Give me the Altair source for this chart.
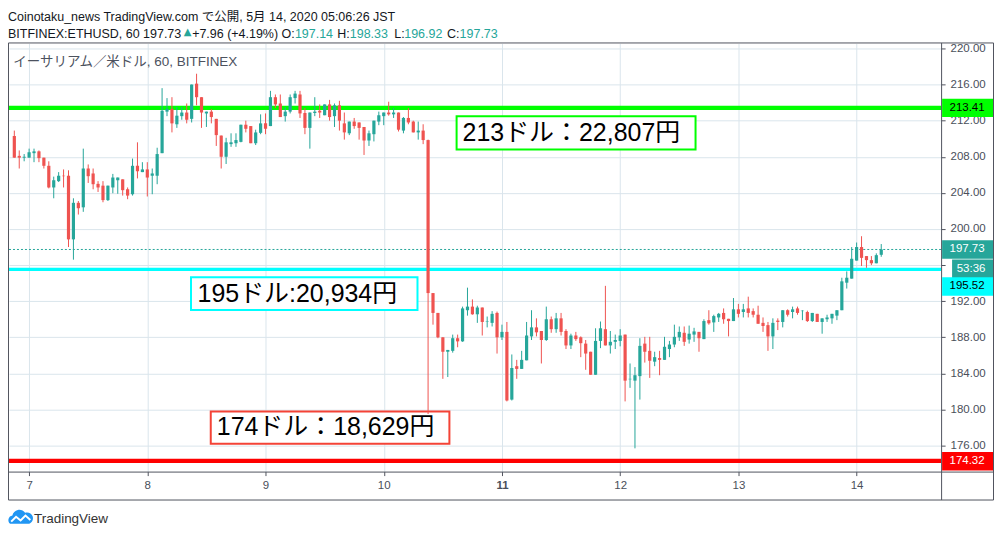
import altair as alt
import pandas as pd

# ---------------- data (hourly candles, BITFINEX ETHUSD, 6 May 21:00 -> 14 May 05:00 JST) ----------------
opens = [210.3, 208.1, 207.9, 207.9, 208.4, 208.6, 207.9, 207.0, 204.6, 205.3,
         205.9, 205.9, 198.85, 202.9, 202.4, 206.7, 206.15, 205.0, 204.8, 203.2,
         204.6, 205.4, 205.5, 204.4, 203.85, 207.0, 206.3, 206.6, 205.9, 205.9,
         208.4, 213.0, 213.3, 211.6, 212.5, 212.9, 212.2, 216.1, 214.6, 212.8,
         213.0, 212.2, 210.35, 208.0, 209.4, 209.5, 209.65, 211.55, 211.4, 209.5,
         210.65, 211.7, 211.4, 214.6, 213.9, 212.5, 213.0, 214.5, 214.9, 212.85,
         211.2, 212.85, 213.1, 212.6, 213.8, 212.5, 213.7, 211.7, 210.6, 211.9,
         211.8, 211.3, 209.8, 210.5, 211.9, 212.5, 212.9, 212.7, 212.9, 210.9,
         212.3, 211.9, 210.7, 210.9, 209.85, 192.9, 190.7, 188.0, 186.4, 186.5,
         187.9, 187.55, 191.0, 191.4, 190.55, 191.3, 189.7, 189.6, 190.7, 188.0,
         188.6, 181.1, 184.8, 184.5, 185.45, 188.1, 189.1, 188.7, 187.7, 190.0,
         188.9, 190.1, 188.7, 187.1, 188.2, 188.0, 187.3, 186.4, 183.85, 187.6,
         188.9, 187.1, 187.5, 187.6, 188.3, 183.35, 183.2, 183.7, 187.3, 186.5,
         185.3, 185.7, 185.5, 186.7, 187.2, 188.0, 188.5, 187.75, 188.3, 188.6,
         187.8, 189.9, 189.65, 190.2, 190.7, 190.05, 189.8, 191.1, 190.8, 191.2,
         190.9, 190.5, 189.6, 189.35, 188.1, 189.85, 189.7, 191.0, 190.8, 191.2,
         190.9, 190.8, 189.8, 190.6, 189.7, 190.0, 190.1, 190.4, 191.0, 194.05,
         194.5, 196.5, 198.0, 197.0, 196.55, 196.2, 197.14]
highs = [210.9, 208.7, 208.3, 208.9, 208.9, 208.7, 207.9, 207.5, 205.8, 206.3,
         206.6, 206.5, 203.4, 203.1, 208.9, 207.15, 206.7, 205.3, 205.3, 204.8,
         206.1, 205.7, 205.5, 204.6, 207.8, 209.6, 207.4, 207.4, 206.7, 209.0,
         215.6, 214.5, 214.6, 213.5, 213.5, 213.9, 216.0, 217.2, 214.6, 213.0,
         213.3, 212.2, 210.35, 210.1, 210.6, 210.6, 211.55, 212.0, 211.4, 211.0,
         212.7, 212.8, 215.3, 214.9, 214.9, 213.5, 214.9, 215.3, 215.3, 213.4,
         212.9, 214.6, 213.8, 213.8, 214.3, 213.9, 214.2, 212.9, 211.9, 212.3,
         211.8, 211.3, 210.9, 212.0, 213.0, 212.9, 214.1, 213.4, 212.9, 212.4,
         213.4, 212.0, 211.9, 211.6, 209.9, 192.9, 190.7, 188.0, 186.6, 188.3,
         188.3, 191.4, 193.5, 192.2, 191.5, 191.3, 190.3, 190.9, 190.85, 189.4,
         189.7, 186.1, 185.5, 186.5, 189.7, 191.0, 190.1, 188.7, 191.4, 190.3,
         190.7, 190.7, 188.9, 188.4, 188.6, 188.1, 187.7, 186.4, 189.0, 189.75,
         193.7, 188.7, 188.3, 188.9, 188.3, 185.1, 184.7, 187.9, 188.05, 188.05,
         186.4, 186.5, 188.05, 187.6, 189.4, 189.2, 189.2, 189.3, 189.05, 188.6,
         190.0, 191.0, 190.5, 190.7, 191.2, 190.05, 192.35, 191.7, 191.7, 192.5,
         191.2, 191.5, 190.2, 189.7, 190.1, 190.1, 191.0, 191.1, 191.4, 191.4,
         191.0, 190.95, 190.7, 190.6, 190.1, 190.5, 190.6, 191.0, 194.6, 195.3,
         198.0, 198.5, 199.2, 197.0, 197.0, 197.3, 198.33]
lows = [207.9, 206.7, 207.5, 207.9, 207.4, 207.4, 206.7, 204.5, 203.4, 205.2,
        204.6, 198.0, 196.6, 201.6, 201.9, 205.1, 204.4, 204.1, 202.96, 203.1,
        203.96, 203.9, 203.7, 203.3, 203.7, 205.6, 206.3, 203.6, 203.85, 204.96,
        208.4, 212.5, 210.7, 211.2, 212.1, 211.7, 211.8, 213.7, 211.2, 211.3,
        211.7, 209.2, 206.7, 207.2, 209.1, 209.1, 209.6, 210.7, 209.5, 209.3,
        210.5, 210.5, 211.4, 213.4, 212.4, 211.9, 212.8, 213.9, 212.3, 210.5,
        208.9, 212.5, 212.3, 212.6, 212.0, 211.3, 210.9, 209.9, 210.4, 211.1,
        209.9, 208.2, 209.2, 209.7, 211.5, 211.5, 212.55, 212.3, 210.8, 210.6,
        211.6, 210.7, 209.9, 209.4, 179.5, 189.4, 187.9, 183.4, 183.6, 186.3,
        186.9, 187.5, 190.4, 190.5, 189.6, 188.2, 189.1, 189.2, 186.2, 187.7,
        180.9, 181.0, 183.4, 184.5, 185.45, 187.7, 188.1, 185.1, 187.6, 188.5,
        188.5, 188.2, 186.7, 186.7, 187.6, 185.8, 184.4, 183.85, 183.85, 186.8,
        187.1, 186.2, 186.7, 187.0, 180.9, 182.4, 175.7, 181.1, 185.2, 183.5,
        184.8, 183.8, 185.5, 185.8, 186.9, 187.6, 187.05, 187.3, 187.5, 186.4,
        187.8, 189.4, 188.6, 189.7, 189.5, 188.1, 189.8, 190.2, 190.2, 190.2,
        190.2, 189.5, 188.6, 186.5, 186.7, 188.8, 189.1, 190.3, 190.1, 190.5,
        189.9, 189.7, 189.7, 189.7, 188.4, 189.7, 189.5, 189.9, 191.0, 193.4,
        194.5, 196.5, 195.9, 195.7, 196.0, 196.2, 196.92]
closes = [207.9, 207.9, 208.0, 208.5, 208.6, 207.85, 207.0, 204.6, 205.4, 205.9,
          205.85, 198.85, 202.9, 202.3, 206.7, 205.85, 204.96, 204.6, 203.2, 204.8,
          205.7, 205.7, 204.3, 203.7, 207.0, 206.4, 206.6, 205.7, 206.15, 208.3,
          213.1, 213.3, 211.7, 212.55, 212.9, 212.1, 216.0, 214.6, 212.9, 213.0,
          212.4, 210.4, 208.0, 209.6, 209.6, 209.85, 211.55, 211.1, 209.5, 210.7,
          211.7, 211.1, 214.6, 213.8, 212.4, 213.0, 214.6, 215.0, 212.8, 211.2,
          212.9, 213.0, 212.9, 213.8, 212.4, 213.7, 212.0, 210.7, 211.9, 211.4,
          211.2, 209.8, 210.6, 212.0, 212.6, 212.9, 212.7, 212.9, 211.0, 212.3,
          211.8, 210.7, 210.9, 209.85, 192.9, 190.7, 188.0, 186.4, 186.6, 187.9,
          187.55, 191.2, 191.4, 190.55, 191.3, 189.7, 189.75, 190.6, 188.0, 188.6,
          181.0, 184.6, 184.5, 185.5, 188.2, 189.1, 188.55, 187.7, 190.0, 188.9,
          190.1, 188.6, 187.1, 188.2, 187.8, 187.35, 186.2, 183.85, 187.6, 189.0,
          187.1, 187.5, 187.7, 188.2, 183.2, 183.4, 183.8, 187.05, 186.4, 185.4,
          185.8, 185.5, 186.95, 187.2, 188.05, 188.6, 187.5, 188.4, 188.65, 187.9,
          189.8, 189.55, 190.35, 190.6, 190.0, 189.8, 191.1, 190.6, 191.1, 190.7,
          190.5, 189.5, 189.25, 188.1, 189.6, 189.7, 191.0, 190.5, 191.1, 190.7,
          190.95, 189.8, 190.7, 189.7, 190.1, 190.2, 190.6, 191.0, 194.2, 194.6,
          196.7, 198.0, 196.8, 196.55, 196.2, 197.1, 197.73]
first_hour = -3  # first candle: 6 May 21:00 JST (hours relative to 7 May 00:00)

day_ticks = [0, 24, 48, 72, 96, 120, 144, 168]
day_labels = ["7", "8", "9", "10", "11", "12", "13", "14"]
price_ticks = [176, 180, 184, 188, 192, 196, 200, 204, 208, 212, 216, 220]
hidden_tick_label = 196   # covered by the countdown badge in the original

level_prices = [213.41, 195.52, 174.32]
last_price = 197.73
countdown = "53:36"

note_texts = ["213ドル：22,807円", "195ドル:20,934円", "174ドル：18,629円"]

header1 = "Coinotaku_news TradingView.com で公開, 5月 14, 2020 05:06:26 JST"
header2_parts = ["BITFINEX:ETHUSD, 60 197.73", "▲", "+7.96 (+4.19%) O:", "197.14",
                 "H:", "198.33", "L:", "196.92", "C:", "197.73"]
legend_text = "イーサリアム／米ドル, 60, BITFINEX"
brand_text = "TradingView"

# ---------------- layout / style ----------------
OX, OY = 9, 43          # page position of plot origin
W, H = 934, 429
def rx(px): return px - OX
def ry(py): return py - OY

UP, DOWN = "#26a69a", "#ef5350"
FRAME = "#50535e"
LABEL = "#4a4f5a"
GRID = "#dae5ec"
LATIN = "Liberation Sans, Noto Sans CJK JP"

xscale = alt.Scale(domain=[-3.067, 184.14], nice=False, zero=False)
yscale = alt.Scale(domain=[173.124, 220.553], nice=False, zero=False)

label_expr = "[" + ",".join("'%s'" % d for d in day_labels) + "][round(datum.value/24)]"
xaxis = alt.Axis(values=day_ticks, labelExpr=label_expr, title=None, domain=False,
                 grid=True, gridColor=GRID, gridWidth=1, tickColor=FRAME, tickSize=4,
                 labelPadding=4, labelFont=LATIN, labelFontSize=11.5, labelColor=LABEL,
                 labelFlush=False,
                 labelFontWeight={"condition": {"test": "datum.value == 96", "value": "bold"},
                                  "value": "normal"})
yaxis = alt.Axis(values=price_ticks,
                 labelExpr="datum.value == %d ? '' : format(datum.value, '.2f')" % hidden_tick_label,
                 orient="right", title=None, domain=False,
                 grid=True, gridColor=GRID, gridWidth=1, tickColor=FRAME, tickSize=4,
                 labelPadding=5, labelFont=LATIN, labelFontSize=11.5, labelColor=LABEL,
                 labelFlush=False)

def X(field):
    return alt.X(field, scale=xscale, axis=xaxis, title=None)
def Y(field):
    return alt.Y(field, scale=yscale, axis=yaxis, title=None)

n = len(opens)
candles = pd.DataFrame({
    "hour": [first_hour + i for i in range(n)],
    "open": opens, "high": highs, "low": lows, "close": closes,
})
candles["col"] = [UP if c >= o else DOWN for o, c in zip(opens, closes)]

layers = []

wicks = alt.Chart(candles).mark_rule(strokeWidth=1).encode(
    x=X("hour:Q"), y=Y("low:Q"), y2="high", color=alt.Color("col:N", scale=None))
bodies = alt.Chart(candles).mark_bar(width=3.2).encode(
    x=X("hour:Q"), y=Y("open:Q"), y2="close", color=alt.Color("col:N", scale=None))

# annotation boxes (data anchored), drawn under the candles
boxes = pd.DataFrame({
    "h1": [86.79, 32.87, 36.88], "h2": [135.3, 78.85, 85.33],
    "p1": [212.48, 194.65, 179.79], "p2": [208.80, 191.03, 176.22],
    "col": ["#00ff00", "#00ffff", "#f44336"],
})
layers.append(alt.Chart(boxes).mark_rect(fill="white", strokeWidth=2).encode(
    x=X("h1:Q"), x2="h2", y=Y("p1:Q"), y2="p2",
    stroke=alt.Stroke("col:N", scale=None)))
notes = pd.DataFrame({"hour": [88.0, 34.2, 38.1], "price": [209.75, 191.95, 177.14],
                      "t": note_texts})
layers.append(alt.Chart(notes).mark_text(align="left", baseline="alphabetic", fontSize=25,
                                         font=LATIN, color="#000000").encode(
    x=X("hour:Q"), y=Y("price:Q"), text="t:N"))

# horizontal level lines
levels = pd.DataFrame({"price": level_prices, "col": ["#00ff00", "#00ffff", "#ff0000"],
                       "w": [4.3, 3.4, 4.3]})
layers.append(alt.Chart(levels).mark_rule().encode(
    y=Y("price:Q"),
    color=alt.Color("col:N", scale=None), strokeWidth=alt.StrokeWidth("w:Q", scale=None)))
lp = pd.DataFrame({"price": [last_price]})
layers.append(alt.Chart(lp).mark_rule(color=UP, strokeWidth=1, strokeDash=[2, 2]).encode(
    y=Y("price:Q")))

layers += [wicks, bodies]

# frame lines
def hline(y, x1, x2):
    return alt.Chart(pd.DataFrame({"k": [0]})).mark_rule(color=FRAME, strokeWidth=1).encode(
        x=alt.value(x1), x2=alt.value(x2), y=alt.value(y), y2=alt.value(y))
def vline(x, y1, y2):
    return alt.Chart(pd.DataFrame({"k": [0]})).mark_rule(color=FRAME, strokeWidth=1).encode(
        x=alt.value(x), x2=alt.value(x), y=alt.value(y1), y2=alt.value(y2))
L, R, T, B = rx(8.5), rx(995.5), ry(42.5), ry(500.5)
layers += [hline(T, L, R), hline(B, L, R), hline(ry(472.5), L, R),
           vline(L, T, B), vline(R, T, B), vline(rx(943.5), T, B)]

# right-axis price labels
def price_label(price, text, bg, fg, x1, x2, xc, off):
    d = pd.DataFrame({"price": [price], "t": [text]})
    box = alt.Chart(d).mark_rect(color=bg, yOffset=off - 9.2, y2Offset=off + 9.2).encode(
        x=alt.value(x1), x2=alt.value(x2), y=Y("price:Q"), y2="price")
    txt = alt.Chart(d).mark_text(color=fg, fontSize=11.5, font=LATIN, align="center",
                                 baseline="middle", yOffset=off).encode(
        x=alt.value(xc), y=Y("price:Q"), text="t:N")
    return [box, txt]
layers += price_label(level_prices[0], "%.2f" % level_prices[0], "#00ff00", "#000000",
                      rx(944), rx(995), rx(969), 0)
layers += price_label(last_price, "%.2f" % last_price, UP, "#ffffff", rx(944), rx(995), rx(969), 0)
layers += price_label(last_price, countdown, UP, "#ffffff", rx(954), rx(995), rx(973), 19.3)
layers += price_label(level_prices[1], "%.2f" % level_prices[1], "#00ffff", "#000000",
                      rx(944), rx(995), rx(969), 17.1)
layers += price_label(level_prices[2], "%.2f" % level_prices[2], "#ff0000", "#ffffff",
                      rx(944), rx(995), rx(969), 0.5)

# texts: header, legend, brand
def ptext(s, x, y, size, color, font=LATIN, weight="normal"):
    return alt.Chart(pd.DataFrame({"t": [s]})).mark_text(
        align="left", baseline="alphabetic", fontSize=size, font=font, color=color,
        fontWeight=weight).encode(x=alt.value(x), y=alt.value(y), text="t:N")
DARK = "#131722"
layers.append(ptext(header1, rx(8), ry(20.7), 12.5, DARK))
h2x = [8, 184, 192.5, 295.5, 338, 350.5, 395, 405, 448, 460.5]
h2c = [DARK, UP, DARK, UP, DARK, UP, DARK, UP, DARK, UP]
for s, x, c in zip(header2_parts, h2x, h2c):
    if s == "▲":
        layers.append(ptext(s, rx(x), ry(34.5), 10, c, font="DejaVu Sans"))
    else:
        layers.append(ptext(s, rx(x), ry(37.7), 12.5, c))
layers.append(ptext(legend_text, rx(13.3), ry(66.0), 13.5, "#4c525e"))
layers.append(ptext(brand_text, rx(34), ry(523.5), 13.5, "#333333"))

cloud = ("M -0.8 0.6 A 0.38 0.38 0 0 1 -0.62 -0.08 A 0.58 0.58 0 0 1 0.42 -0.3 "
         "A 0.46 0.46 0 0 1 0.75 0.6 Z")
zig = "M -0.72 0.42 L -0.32 0.02 L 0.05 0.32 L 0.45 -0.08 L 0.85 0.28"
one = pd.DataFrame({"k": [0]})
layers.append(alt.Chart(one).mark_point(shape=cloud, filled=True, size=600, color="#2196f3",
                                        opacity=1).encode(x=alt.value(rx(20)), y=alt.value(ry(517))))
layers.append(alt.Chart(one).mark_point(shape=zig, filled=False, size=600, color="#ffffff",
                                        strokeWidth=2, opacity=1).encode(
    x=alt.value(rx(20)), y=alt.value(ry(517))))

chart = alt.layer(*layers).properties(
    width=W, height=H,
    padding={"left": 1, "top": 35, "right": 53, "bottom": 57},
    autosize=alt.AutoSizeParams(type="none"),
    background="white",
).configure_view(stroke=None)

chart.save("out.html", embed_options={"renderer": "svg", "actions": False})
